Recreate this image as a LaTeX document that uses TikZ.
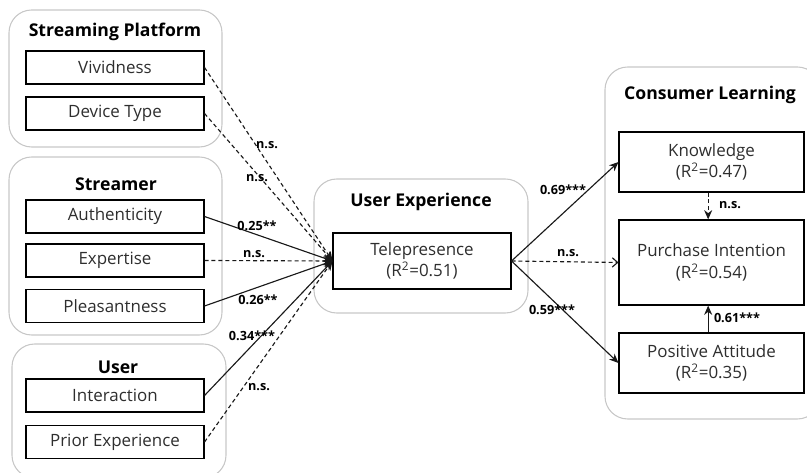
\documentclass[tikz,border=0pt]{standalone}
\usepackage{fontspec}
\setmainfont{Open Sans}
\usetikzlibrary{arrows.meta}
\begin{document}
\begin{tikzpicture}[x=0.75pt,y=-0.75pt,
 grp/.style={draw=black!22, line width=0.8pt, rounded corners=17pt},
 box/.style={draw=black, line width=0.8pt, text=black!82, font=\fontsize{12.7}{16}\selectfont, align=center, inner sep=0pt},
 lbox/.style={box, minimum width=133.5pt, minimum height=24.75pt},
 rbox/.style={box, minimum width=138.75pt, minimum height=45pt},
 ttl/.style={font=\bfseries\fontsize{13.2}{15}\selectfont, inner sep=0pt},
 lbl/.style={font=\bfseries\fontsize{9.5}{11}\selectfont, inner sep=1pt},
 sol/.style={draw=black!90, line width=0.85pt, -{Stealth[length=7pt,width=6pt]}},
 dsh/.style={sol, dash pattern=on 3pt off 2.2pt},
 odsh/.style={draw=black!90, line width=0.85pt, dash pattern=on 3pt off 2.2pt, -{Straight Barb[length=4pt,width=7pt]}},
]
\useasboundingbox (0,0) rectangle (807,473);
% groups
\draw[grp] (9,10) rectangle (222,147);
\draw[grp] (9,157) rectangle (222,335);
\draw[grp] (12,344) rectangle (226,478);
\draw[grp] (314,179) rectangle (528,313);
\draw[grp] (605,67) rectangle (820,419);
% titles
\node[ttl] (tsp) at (115,32) {Streaming Platform};
\node[ttl] (tst) at (116,184) {Streamer};
\node[ttl] (tus) at (118,367) {User};
\node[ttl] (tux) at (421,202) {User Experience};
\node[ttl] (tcl) at (710,95) {Consumer Learning};
% boxes
\node[lbox] (viv) at (115,67.5) {Vividness};
\node[lbox] (dev) at (115,113.5) {Device Type};
\node[lbox] (aut) at (115,216.5) {Authenticity};
\node[lbox] (exp) at (115,260.5) {Expertise};
\node[lbox] (ple) at (115,306) {Pleasantness};
\node[lbox] (int) at (115,395.5) {Interaction};
\node[lbox] (pri) at (115,442) {Prior Experience};
\node[box, minimum width=133.5pt, minimum height=42pt] (tel) at (422,261) {Telepresence\\(R\textsuperscript{2}=0.51)};
\node[rbox] (kno) at (711.5,162) {Knowledge\\(R\textsuperscript{2}=0.47)};
\node[rbox, minimum height=63.75pt] (pin) at (711.5,262.5) {Purchase Intention\\(R\textsuperscript{2}=0.54)};
\node[rbox] (pat) at (711.5,363) {Positive Attitude\\(R\textsuperscript{2}=0.35)};
% left connectors
\draw[dsh] (viv.east) -- (tel.west);
\draw[dsh] (dev.east) -- (tel.west);
\draw[sol] (aut.east) -- (tel.west);
\draw[dsh] (exp.east) -- (tel.west);
\draw[sol] (ple.east) -- (tel.west);
\draw[sol] (int.east) -- (tel.west);
\draw[dsh] (pri.east) -- (tel.west);
% right connectors
\draw[sol] (tel.east) -- (kno.west);
\draw[odsh] (tel.east) -- (pin.west);
\draw[sol] (tel.east) -- (pat.west);
\draw[dsh] ([xshift=-2.5pt]kno.south) -- ([xshift=-2.5pt]pin.north);
\draw[sol] ([xshift=-2.5pt]pat.north) -- ([xshift=-2.5pt]pin.south);
% labels
\node[lbl] (l1) at (267,145) {n.s.};
\node[lbl] (l2) at (257,178) {n.s.};
\node[lbl] (l3) at (257,226) {0.25**};
\node[lbl] (l4) at (254,254) {n.s.};
\node[lbl] (l5) at (258,300) {0.26**};
\node[lbl] (l6) at (252,336) {0.34***};
\node[lbl] (l7) at (259,387) {n.s.};
\node[lbl] (l8) at (563,190) {0.69***};
\node[lbl] (l9) at (568,253) {n.s.};
\node[lbl] (l10) at (552,310) {0.59***};
\node[lbl] (l11) at (730,205) {n.s.};
\node[lbl] (l12) at (737,318) {0.61***};
\end{tikzpicture}
\end{document}
